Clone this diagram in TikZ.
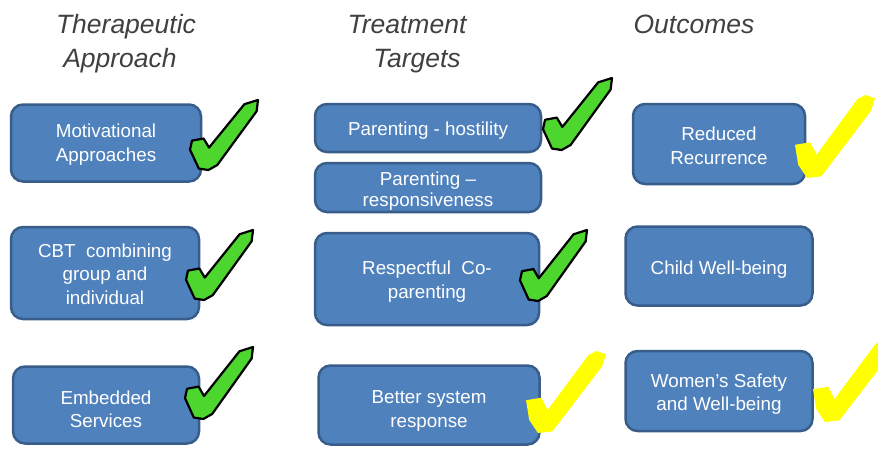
\documentclass[tikz,border=0pt]{standalone}
\usepackage{fontspec}
\setmainfont{Liberation Sans}
\definecolor{boxfill}{HTML}{4F81BD}
\definecolor{boxline}{HTML}{385D8A}
\definecolor{headgray}{HTML}{404040}
\definecolor{checkgreen}{HTML}{4CD62E}
\definecolor{checkyellow}{HTML}{FFFF00}
\newcommand\dn[2]{\raisebox{-#1}[\height][\depth]{#2}}
\tikzset{
  stepbox/.style={rectangle, rounded corners=12pt, draw=boxline, fill=boxfill,
    line width=2.5pt, text=white, align=center, inner sep=0pt,
    font=\fontsize{18.8}{23.5}\selectfont},
  heading/.style={text=headgray, inner sep=0pt, anchor=base,
    font=\fontsize{26.5}{30}\selectfont\itshape},
  gcheck/.pic={\filldraw[fill=checkgreen, draw=black, line width=2.2pt, line join=round]
    (1.0,0.0) -- (0.80,0.06) -- (0.28,0.68) -- (0.20,0.55) -- (0.03,0.58)
    -- (0.0,0.71) -- (0.13,0.98) -- (0.27,1.0) -- (0.40,0.93) -- (0.98,0.16) -- cycle;},
  ycheck/.pic={\fill[checkyellow, line join=round]
    (0.0,0.6) -- (0.19,0.57) -- (0.27,0.72) -- (0.78,0.05) -- (0.88,0.0)
    -- (1.0,0.04) -- (0.95,0.19) -- (0.33,0.98) -- (0.15,1.0) -- (0.04,0.84) -- cycle;}
}
\begin{document}
\begin{tikzpicture}[x=1pt,y=-1pt]
\useasboundingbox (0,0) rectangle (878,450);
% headings
\node[heading] (h1a) at (126,33) {Therapeutic};
\node[heading] (h1b) at (120,67) {Approach};
\node[heading] (h2a) at (407,33) {Treatment};
\node[heading] (h2b) at (417,67) {Targets};
\node[heading] (h3a) at (694,33) {Outcomes};
% column 1
\node[stepbox, minimum width=190pt, minimum height=77pt] (mot) at (106,143)
  {\dn{1.5pt}{Motivational}\\\dn{1.5pt}{Approaches}};
\node[stepbox, minimum width=188pt, minimum height=92pt] (cbt) at (105,273)
  {\dn{1pt}{CBT\ \ combining}\\\dn{1pt}{group and}\\\dn{1pt}{individual}};
\node[stepbox, minimum width=186pt, minimum height=77pt] (emb) at (106,405)
  {\dn{4.5pt}{Embedded}\\\dn{4.5pt}{Services}};
% column 2
\node[stepbox, minimum width=226pt, minimum height=48pt] (host) at (428,128)
  {\dn{3pt}{Parenting - hostility}};
\node[stepbox, minimum width=226pt, minimum height=49pt, font=\fontsize{18.8}{21}\selectfont] (resp) at (428,187.5)
  {\dn{3.5pt}{Parenting –}\\\dn{3.5pt}{responsiveness}};
\node[stepbox, minimum width=224pt, minimum height=92pt] (copar) at (427,279)
  {\dn{2.5pt}{Respectful\ \ Co-}\\\dn{2.5pt}{parenting}};
\node[stepbox, minimum width=221pt, minimum height=79pt] (sys) at (429,405)
  {\dn{6pt}{Better system}\\\dn{6pt}{response}};
% column 3
\node[stepbox, minimum width=172pt, minimum height=80pt] (recur) at (719,144)
  {\dn{2pt}{Reduced}\\\dn{2pt}{Recurrence}};
\node[stepbox, minimum width=187pt, minimum height=79pt] (child) at (719,266)
  {\dn{4pt}{Child Well-being}};
\node[stepbox, minimum width=187pt, minimum height=80pt] (women) at (719,391)
  {\dn{3pt}{Women’s Safety}\\\dn{3pt}{and Well-being}};
% green checks
\pic[xscale=68, yscale=70] at (190,100) {gcheck};
\pic[xscale=67, yscale=70] at (186,230) {gcheck};
\pic[xscale=68, yscale=72] at (185,347) {gcheck};
\pic[xscale=69, yscale=72] at (543,78) {gcheck};
\pic[xscale=67, yscale=71] at (520,230) {gcheck};
% yellow checks
\pic[xscale=80, yscale=82] at (526,351) {ycheck};
\pic[xscale=80, yscale=83] at (795,95) {ycheck};
\pic[xscale=80, yscale=82] at (813,340) {ycheck};
\end{tikzpicture}
\end{document}
